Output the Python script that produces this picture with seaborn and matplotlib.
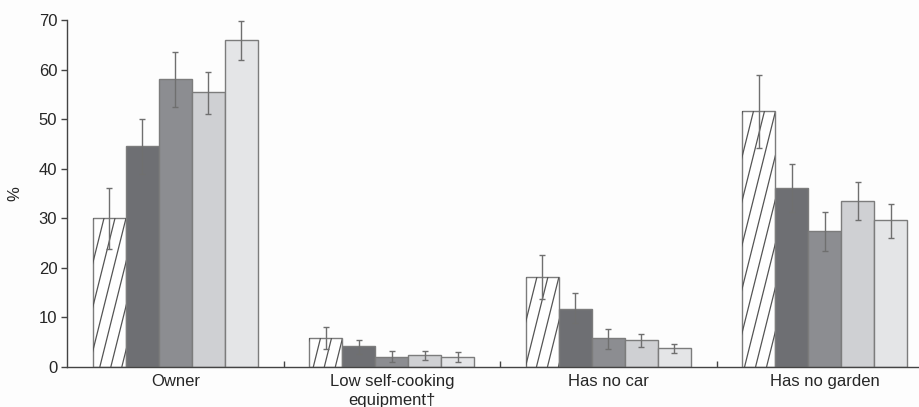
import pandas as pd
import numpy as np
import matplotlib
matplotlib.use('Agg')
import matplotlib.pyplot as plt
import seaborn as sns

# Data
categories = ['Owner', 'Low self-cooking\nequipment†', 'Has no car', 'Has no garden']
groups = ['G1', 'G2', 'G3', 'G4', 'G5']
values = [
    [30.0, 44.6, 58.0, 55.5, 66.0],
    [5.8, 4.2, 2.0, 2.4, 2.1],
    [18.2, 11.8, 5.8, 5.4, 3.8],
    [51.6, 36.2, 27.4, 33.4, 29.6],
]
err_low = [
    [23.8, 39.0, 52.5, 51.1, 62.0],
    [3.7, 2.6, 1.0, 1.4, 1.1],
    [13.8, 8.8, 3.6, 4.1, 2.9],
    [44.2, 31.3, 23.4, 29.6, 26.1],
]
err_high = [
    [36.2, 50.0, 63.6, 59.6, 69.7],
    [8.1, 5.5, 3.2, 3.3, 3.0],
    [22.5, 14.9, 7.7, 6.6, 4.7],
    [59.0, 40.9, 31.2, 37.4, 32.9],
]
colors = ['#ffffff', '#6e6f73', '#8c8d91', '#cfd0d3', '#e4e5e7']

rows = []
for i, c in enumerate(categories):
    for j, g in enumerate(groups):
        rows.append({'cat': c, 'grp': g, 'val': values[i][j]})
df = pd.DataFrame(rows)

sns.set_style('white')
plt.rcParams['font.family'] = ['Liberation Sans', 'DejaVu Sans']

fig = plt.figure(figsize=(9.2, 4.07), dpi=100)
fig.patch.set_facecolor('#fdfdfd')
ax = fig.add_axes([67 / 920, 40 / 407, 866 / 920, 347 / 407])
ax.set_facecolor('#fdfdfd')

sns.barplot(data=df, x='cat', y='val', hue='grp', palette=colors, width=0.76,
            errorbar=None, legend=False, edgecolor='#7c7c7c', linewidth=1.0,
            saturation=1, ax=ax)

ax.set_ylim(0, 70)
ax.set_xlim(-0.5, 3.5)

bar_sets = list(ax.containers)

# steep diagonal hatching on the first series (drawn as clipped lines)
px_x = 866 / 4.0      # pixels per category unit
px_y = 347 / 70.0     # pixels per %
slope = 4.0 * px_x / px_y   # steep lines, ~4 px up per px across
step = 11 / px_x
for bar in bar_sets[0]:
    x0 = bar.get_x()
    x1 = x0 + bar.get_width()
    h = bar.get_height()
    c = x0 - h / slope
    while c < x1:
        ln, = ax.plot([c, c + 70 / slope], [0, 70], color='#555555', lw=0.9,
                      solid_capstyle='butt', zorder=bar.get_zorder() + 0.1)
        ln.set_clip_path(bar)
        c += step

# error bars
for j, cont in enumerate(bar_sets):
    for i, bar in enumerate(cont):
        x = bar.get_x() + bar.get_width() / 2
        y = bar.get_height()
        ax.errorbar(x, y, yerr=[[y - err_low[i][j]], [err_high[i][j] - y]],
                    color='#6f6f6f', lw=1.0, capsize=2.5, capthick=1.0, zorder=5)

ax.set_ylim(0, 70)
ax.set_xlim(-0.5, 3.5)
ax.set_yticks(range(0, 71, 10))
ax.set_xlabel('')
ax.set_ylabel('%', fontsize=12, labelpad=12)
ax.tick_params(axis='y', direction='out', length=4, width=1, color='#444444',
               labelsize=12, left=True, pad=3)
ax.tick_params(axis='x', which='major', length=0, labelsize=12, pad=5)
ax.set_xticks([0.5, 1.5, 2.5], minor=True)
ax.tick_params(axis='x', which='minor', direction='in', length=4, width=1,
               color='#444444', bottom=True)
for lab in ax.get_xticklabels():
    lab.set_linespacing(1.3)

sns.despine(ax=ax)
for s in ['left', 'bottom']:
    ax.spines[s].set_color('#444444')
    ax.spines[s].set_linewidth(1.0)

plt.savefig('out.png', dpi=100, facecolor=fig.get_facecolor())
